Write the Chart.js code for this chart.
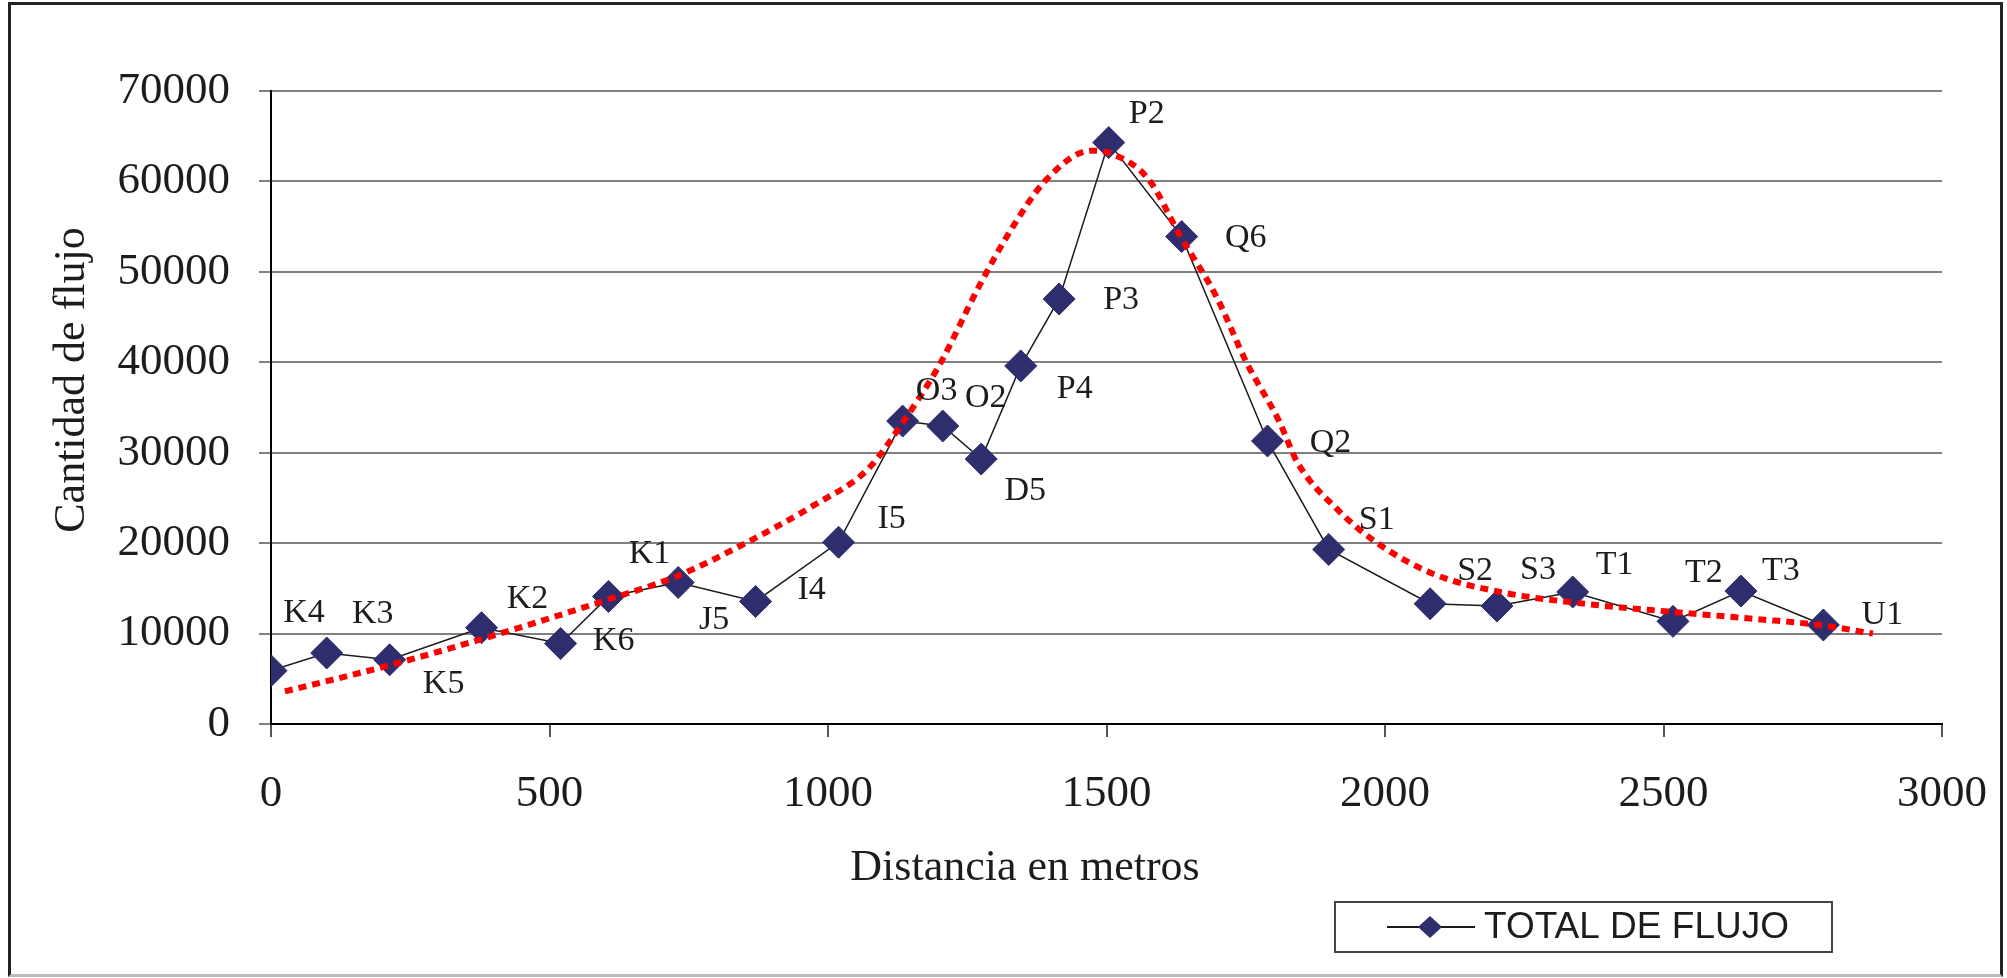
<!DOCTYPE html>
<html>
<head>
<meta charset="utf-8">
<script src="https://cdn.jsdelivr.net/npm/chart.js@4.4.1/dist/chart.umd.min.js"></script>
<style>
html, body { margin: 0; padding: 0; background: #fff; }
#wrap { position: relative; width: 2007px; height: 978px; }
#frame { position: absolute; left: 8px; top: 2px; width: 1989px; height: 969px; border: 3px solid #222; border-bottom-color: #bbb; pointer-events: none; }
</style>
</head>
<body>
<div id="wrap">
    <canvas id="chart" width="2007" height="978"></canvas>
    <div id="frame"></div>
</div>
<script>
// distance (m) and total flow for each station
const DISTANCES = [0, 100, 213, 378, 520, 606, 731, 870, 1019, 1134, 1206, 1275, 1346, 1415, 1504, 1635, 1789, 1899, 2081, 2201, 2337, 2517, 2639, 2787];
const FLUJO = [5900, 7850, 7100, 10650, 8900, 14100, 15650, 13550, 20100, 33500, 32950, 29300, 39600, 47000, 64300, 53900, 31300, 19300, 13300, 13050, 14600, 11350, 14700, 10950];
const POINT_NAMES = ["K4", "K3", "K5", "K2", "K6", "K1", "J5", "I4", "I5", "O3", "O2", "D5", "P4", "P3", "P2", "Q6", "Q2", "S1", "S2", "S3", "T1", "T2", "T3", "U1"];

// red dotted trend curve
const TREND_X = [25, 213, 395, 607, 731, 855, 975, 1072, 1137, 1200, 1272, 1329, 1392, 1472, 1512, 1576, 1632, 1697, 1752, 1809, 1843, 1914, 1984, 2088, 2208, 2364, 2521, 2668, 2781, 2876];
const TREND_Y = [3600, 6500, 9700, 13800, 16400, 20100, 24200, 28200, 33600, 39700, 48500, 54700, 60200, 63400, 63000, 60200, 54000, 47300, 39900, 33600, 28900, 23750, 20100, 16570, 14580, 13260, 12370, 11600, 10940, 10000];

const X_MIN = 0, X_MAX = 3000, X_STEP = 500;
const Y_MIN = 0, Y_MAX = 70000, Y_STEP = 10000;

const SERIES_LABEL = "TOTAL DE FLUJO";
const X_TITLE = "Distancia en metros";
const Y_TITLE = "Cantidad de flujo";

// pixel offsets of the station names from their markers (style only)
const LABEL_OFFSETS = [[33, -58], [46, -39], [54, 24], [46, -29], [53, -2], [41, -42], [36, 38], [56, -11], [53, -23],
    [34, -30], [43, -28], [44, 32], [54, 23], [62, 1], [38, -28], [64, 1], [63, 2], [48, -29], [45, -33], [41, -36],
    [42, -27], [31, -48], [40, -20], [59, -10]];

const SERIF = "'Liberation Serif', 'Times New Roman', serif";
const SANS = "'Liberation Sans', Arial, sans-serif";
const MARKER = '#2e2d6e';

const decor = {
    id: 'decor',
    afterDatasetsDraw(chart) {
        const ctx = chart.ctx;
        const meta = chart.getDatasetMeta(0);
        ctx.save();
        ctx.font = "34px " + SERIF;
        ctx.fillStyle = '#1c1c1c';
        ctx.textAlign = 'center';
        ctx.textBaseline = 'middle';
        meta.data.forEach(function (pt, i) {
            const off = LABEL_OFFSETS[i];
            ctx.fillText(POINT_NAMES[i], pt.x + off[0], pt.y + off[1]);
        });
        ctx.restore();
    },
    afterDraw(chart) {
        const ctx = chart.ctx;
        ctx.save();
        ctx.fillStyle = '#1c1c1c';
        // axis titles
        ctx.font = "44px " + SERIF;
        ctx.textAlign = 'center';
        ctx.textBaseline = 'alphabetic';
        ctx.fillText(X_TITLE, 1025, 880);
        ctx.translate(84, 380);
        ctx.rotate(-Math.PI / 2);
        ctx.fillText(Y_TITLE, 0, 0);
        ctx.setTransform(1, 0, 0, 1, 0, 0);

        // legend box
        ctx.strokeStyle = '#444';
        ctx.lineWidth = 2;
        ctx.strokeRect(1335, 902, 497, 50);
        ctx.strokeStyle = '#1a1a1a';
        ctx.lineWidth = 2;
        ctx.beginPath();
        ctx.moveTo(1387, 927);
        ctx.lineTo(1475, 927);
        ctx.stroke();
        ctx.fillStyle = MARKER;
        ctx.beginPath();
        ctx.moveTo(1430, 916);
        ctx.lineTo(1442, 927);
        ctx.lineTo(1430, 938);
        ctx.lineTo(1418, 927);
        ctx.closePath();
        ctx.fill();
        ctx.fillStyle = '#1c1c1c';
        ctx.font = "37px " + SANS;
        ctx.textAlign = 'left';
        ctx.textBaseline = 'middle';
        ctx.fillText(SERIES_LABEL, 1484, 928);
        ctx.restore();
    }
};

function main() {
    const ctx = document.getElementById('chart');
    new Chart(ctx, {
        type: 'line',
        data: {
            datasets: [{
                label: SERIES_LABEL,
                data: DISTANCES.map(function (d, i) { return { x: d, y: FLUJO[i] }; }),
                borderColor: '#1a1a1a',
                borderWidth: 1.5,
                tension: 0,
                pointStyle: 'rectRot',
                pointRadius: 16,
                pointBackgroundColor: MARKER,
                pointBorderColor: MARKER,
                pointBorderWidth: 1,
                order: 2
            }, {
                label: 'tendencia',
                data: TREND_X.map(function (d, i) { return { x: d, y: TREND_Y[i] }; }),
                borderColor: '#ff0000',
                borderWidth: 6,
                borderDash: [8, 6],
                borderCapStyle: 'butt',
                cubicInterpolationMode: 'monotone',
                pointRadius: 0,
                fill: false,
                order: 1
            }]
        },
        options: {
            responsive: false,
            devicePixelRatio: 1,
            animation: false,
            layout: { padding: { left: 0, right: 65, top: 91, bottom: 0 } },
            plugins: { legend: { display: false }, tooltip: { enabled: false } },
            scales: {
                x: {
                    type: 'linear',
                    min: X_MIN,
                    max: X_MAX,
                    afterFit: function (scale) {
                        scale.height = 254;
                        scale.paddingLeft = 0;
                        scale.paddingRight = 0;
                    },
                    ticks: {
                        stepSize: X_STEP,
                        padding: 30,
                        color: '#1c1c1c',
                        font: { family: SERIF, size: 45 },
                        callback: function (v) { return String(v); }
                    },
                    grid: { drawOnChartArea: false, drawTicks: true, tickLength: 13, color: '#555', lineWidth: 2 },
                    border: { display: true, color: '#000', width: 2 }
                },
                y: {
                    min: Y_MIN,
                    max: Y_MAX,
                    afterFit: function (scale) { scale.width = 271; },
                    ticks: {
                        stepSize: Y_STEP,
                        padding: 29,
                        color: '#1c1c1c',
                        font: { family: SERIF, size: 45 },
                        callback: function (v) { return String(v); }
                    },
                    grid: { color: '#808080', lineWidth: 2, tickLength: 12 },
                    border: { display: true, color: '#000', width: 2 }
                }
            }
        },
        plugins: [decor]
    });
}

main();
</script>
</body>
</html>
